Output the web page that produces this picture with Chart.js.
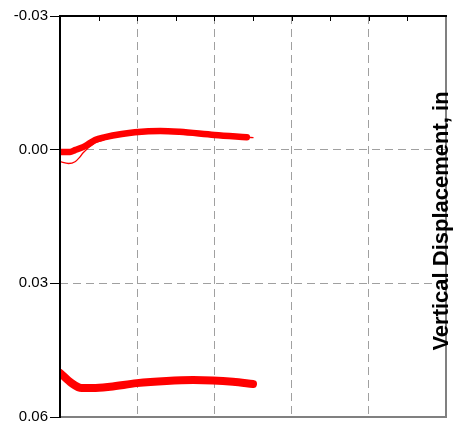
<!DOCTYPE html>
<html>
<head>
<meta charset="utf-8">
<script src="https://cdn.jsdelivr.net/npm/chart.js@4"></script>
<style>
  html, body { margin: 0; padding: 0; background: #fff; }
  #wrap { width: 459px; height: 423px; }
</style>
</head>
<body>
<div id="wrap"><canvas id="chart" width="459" height="423"></canvas></div>
<script>
// --- DATA ---
const yTitle = 'Vertical Displacement, in';
const yTickValues = [-0.03, 0.00, 0.03, 0.06];

// upper band (thick)
const upperX = [0, 2.6, 3.9, 5.2, 6.5, 9.1, 11.7, 16, 19.4, 26, 31, 40, 48.4];
const upperY = [0.0005, 0.0005, 0.0001, -0.0003, -0.0008, -0.0022, -0.0028, -0.0035, -0.0039, -0.0042, -0.0040, -0.0033, -0.0028];

// thin trace under the upper band
const thinX = [0, 2.2, 3.9, 5.2, 6, 9.1, 11.7, 16, 19.4, 26, 31, 40, 48.4, 50];
const thinY = [0.0027, 0.0031, 0.0027, 0.0016, 0.0007, -0.0015, -0.0023, -0.0032, -0.0036, -0.0041, -0.0040, -0.0033, -0.0028, -0.0027];

// lower band
const lowerX = [0, 3, 5.6, 8.5, 13, 19.9, 27.6, 34.5, 39.6, 44.8, 50];
const lowerY = [0.0501, 0.0524, 0.0535, 0.0535, 0.0532, 0.0524, 0.0519, 0.0517, 0.0518, 0.0521, 0.0526];

const toPoints = (xs, ys) => xs.map((x, i) => ({ x: x, y: ys[i] }));

const gridGray = '#a0a0a0';

// frame, inward ticks on top and the rotated axis title
const framePlugin = {
    id: 'frame',
    afterDatasetsDraw(chart) {
        const { ctx, chartArea: a, scales } = chart;
        ctx.save();
        // top inward ticks
        ctx.strokeStyle = '#000';
        ctx.lineWidth = 1;
        ctx.beginPath();
        for (let v = 10; v < 100; v += 10) {
            const px = Math.round(scales.x.getPixelForValue(v)) + 0.5;
            ctx.moveTo(px, a.top);
            ctx.lineTo(px, a.top + 5);
        }
        ctx.stroke();
        // right + bottom (gray)
        ctx.strokeStyle = '#808080';
        ctx.lineWidth = 2;
        ctx.beginPath();
        ctx.moveTo(a.right, a.top);
        ctx.lineTo(a.right, a.bottom);
        ctx.lineTo(a.left, a.bottom);
        ctx.stroke();
        // left + top (black)
        ctx.strokeStyle = '#000';
        ctx.beginPath();
        ctx.moveTo(a.left, a.bottom + 1);
        ctx.lineTo(a.left, a.top);
        ctx.lineTo(a.right + 1, a.top);
        ctx.stroke();
        // title
        ctx.fillStyle = '#000';
        ctx.font = 'bold 22px "Liberation Sans", Arial, sans-serif';
        ctx.textAlign = 'center';
        ctx.textBaseline = 'alphabetic';
        ctx.translate(448, 221);
        ctx.rotate(-Math.PI / 2);
        ctx.fillText(yTitle, 0, 0);
        ctx.restore();
    }
};

const lineStyle = {
    borderColor: '#ff0000',
    cubicInterpolationMode: 'monotone',
    borderCapStyle: 'round',
    pointRadius: 0
};

new Chart(document.getElementById('chart'), {
    type: 'line',
    data: {
        datasets: [
            Object.assign({ data: toPoints(lowerX, lowerY), borderWidth: 8 }, lineStyle),
            Object.assign({ data: toPoints(upperX, upperY), borderWidth: 6.5 }, lineStyle),
            Object.assign({ data: toPoints(thinX, thinY), borderWidth: 1.3 }, lineStyle)
        ]
    },
    options: {
        responsive: false,
        devicePixelRatio: 1,
        animation: false,
        layout: { padding: { top: 16, right: 13, bottom: 6, left: 0 } },
        plugins: {
            legend: { display: false },
            tooltip: { enabled: false }
        },
        scales: {
            x: {
                type: 'linear',
                min: 0,
                max: 100,
                ticks: { display: false, stepSize: 20 },
                grid: {
                    drawTicks: false,
                    color: (c) => (c.index >= 1 && c.index <= 4) ? gridGray : 'transparent'
                },
                border: { display: false, dash: [8, 5] },
                afterFit: (s) => { s.height = 0; s.paddingLeft = 0; s.paddingRight = 0; }
            },
            y: {
                reverse: true,
                min: yTickValues[0],
                max: yTickValues[yTickValues.length - 1],
                afterBuildTicks: (s) => { s.ticks = yTickValues.map(v => ({ value: v })); },
                ticks: {
                    padding: 2,
                    color: '#000',
                    font: { family: '"Liberation Sans", Arial, sans-serif', size: 15 },
                    callback: (v) => (Math.abs(v) < 1e-9 ? 0 : v).toFixed(2)
                },
                grid: {
                    tickLength: 10,
                    tickColor: '#000',
                    tickWidth: 1,
                    color: (c) => (c.index === 1 || c.index === 2) ? gridGray : 'transparent'
                },
                border: { display: false, dash: [8, 5] },
                afterFit: (s) => { s.width = 60; s.paddingTop = 0; s.paddingBottom = 0; }
            }
        }
    },
    plugins: [framePlugin]
});
</script>
</body>
</html>
